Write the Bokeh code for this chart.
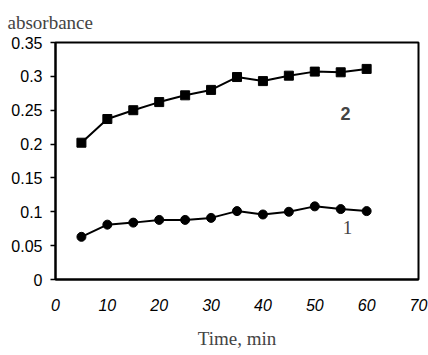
from bokeh.plotting import figure
from bokeh.models import Range1d, Label, FixedTicker
from bokeh.embed import file_html
from bokeh.resources import INLINE

time_min = [5, 10, 15, 20, 25, 30, 35, 40, 45, 50, 55, 60]
series2 = [0.202, 0.237, 0.250, 0.262, 0.272, 0.280, 0.299, 0.293, 0.301, 0.307, 0.306, 0.311]
series1 = [0.063, 0.081, 0.084, 0.088, 0.088, 0.091, 0.101, 0.096, 0.100, 0.108, 0.104, 0.101]
y_ticks = [0, 0.05, 0.1, 0.15, 0.2, 0.25, 0.3, 0.35]
y_tick_labels = ["0", "0.05", "0.1", "0.15", "0.2", "0.25", "0.3", "0.35"]
x_ticks = [0, 10, 20, 30, 40, 50, 60, 70]
x_tick_labels = ["0", "10", "20", "30", "40", "50", "60", "70"]

p = figure(width=428, height=355, output_backend="svg", toolbar_location=None,
           x_range=Range1d(0, 70), y_range=Range1d(0, 0.35),
           min_border_left=55, min_border_right=10, min_border_top=41, min_border_bottom=76)
p.background_fill_color = "white"
p.border_fill_color = "white"
p.xgrid.visible = False
p.ygrid.visible = False
p.outline_line_color = "black"
p.outline_line_width = 2

p.title.text = "absorbance"
p.title.align = "left"
p.title.offset = -48
p.title.text_font = "Liberation Serif"
p.title.text_font_size = "19px"
p.title.text_font_style = "normal"
p.title.standoff = 19

for ax in (p.xaxis[0], p.yaxis[0]):
    ax.axis_line_width = 2
    ax.axis_line_color = "black"
    ax.major_tick_line_color = "black"
    ax.major_tick_line_width = 1.5
    ax.minor_tick_line_color = None
    ax.major_label_text_font = "Liberation Sans"
    ax.major_label_text_font_size = "16px"
    ax.major_label_text_color = "black"

p.yaxis.ticker = FixedTicker(ticks=y_ticks)
p.yaxis.major_label_overrides = {t: l for t, l in zip(y_ticks, y_tick_labels)}
p.yaxis.major_tick_out = 5
p.yaxis.major_tick_in = 0
p.yaxis.major_label_standoff = 8

p.xaxis.ticker = FixedTicker(ticks=x_ticks)
p.xaxis.major_label_overrides = {t: l for t, l in zip(x_ticks, x_tick_labels)}
p.xaxis.major_tick_out = 0
p.xaxis.major_tick_in = 0
p.xaxis.major_label_standoff = 19
p.xaxis.major_label_text_font_style = "italic"
p.xaxis.axis_label = "Time, min"
p.xaxis.axis_label_text_font = "Liberation Serif"
p.xaxis.axis_label_text_font_size = "19px"
p.xaxis.axis_label_text_font_style = "normal"
p.xaxis.axis_label_standoff = 14

p.line(time_min, series2, line_color="black", line_width=2)
p.scatter(time_min, series2, marker="square", size=9, fill_color="black", line_color="black")
p.line(time_min, series1, line_color="black", line_width=2)
p.scatter(time_min, series1, marker="circle", size=9, fill_color="black", line_color="black")

p.add_layout(Label(x=55.9, y=0.2456, text="2", text_font="Liberation Sans", text_font_style="bold",
                   text_font_size="18px", text_align="center", text_baseline="middle"))
p.add_layout(Label(x=56.3, y=0.0765, text="1", text_font="Liberation Serif",
                   text_font_size="19px", text_align="center", text_baseline="middle"))

open("out.html", "w").write(file_html(p, INLINE))
